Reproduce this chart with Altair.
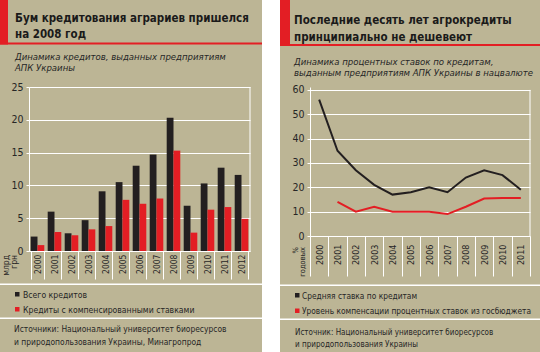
import altair as alt
import pandas as pd

# ---------------- data ----------------
years_a = ["2000", "2001", "2002", "2003", "2004", "2005", "2006",
           "2007", "2008", "2009", "2010", "2011", "2012"]
total_loans = [2.2, 6.0, 2.7, 4.7, 9.1, 10.5, 13.0, 14.7, 20.3, 6.9, 10.3, 12.7, 11.6]
comp_loans = [0.9, 2.9, 2.4, 3.3, 3.8, 7.8, 7.2, 8.0, 15.3, 2.8, 6.3, 6.7, 4.9]
series_a = ["Всего кредитов", "Кредиты с компенсированными ставками"]
yticks_a = [0, 5, 10, 15, 20, 25]
title_a = ["Бум кредитования аграриев пришелся", "на 2008 год"]
subtitle_a = ["Динамика кредитов, выданных предприятиям", "АПК Украины"]
unit_a = ["млрд", "грн"]
source_a = ["Источники: Национальный университет биоресурсов",
            "и природопользования Украины, Минагропрод"]

years_b = ["2000", "2001", "2002", "2003", "2004", "2005", "2006",
           "2007", "2008", "2009", "2010", "2011"]
avg_rate = [56, 35, 27, 21, 17, 18, 20, 18, 24, 27, 25, 19]
comp_rate = [None, 14, 10, 12, 10, 10, 10, 9, 12, 15.4, 15.6, 15.6]
series_b = ["Средняя ставка по кредитам",
            "Уровень компенсации процентных ставок из госбюджета"]
yticks_b = [0, 10, 20, 30, 40, 50, 60]
title_b = ["Последние десять лет агрокредиты", "принципиально не дешевеют"]
subtitle_b = ["Динамика процентных ставок по кредитам,",
              "выданным предприятиям АПК Украины в нацвалюте"]
unit_b = ["%", "годовых"]
source_b = ["Источник:  Национальный университет биоресурсов",
            "и природопользования Украины"]

# ---------------- style ----------------
KHAKI = "#bcb595"
RED = "#e31e24"
BLACK = "#231f20"
TEXT = "#262626"
WHITE = "#ffffff"
FONT = "DejaVu Sans Condensed, DejaVu Sans, sans-serif"

one = pd.DataFrame({"k": [0]})


def rect(x0, y0, x1, y1, o, color, opacity=1):
    ox, oy = o
    return alt.Chart(one).mark_rect(color=color, opacity=opacity).encode(
        x=alt.value(x0 - ox), x2=alt.value(x1 - ox),
        y=alt.value(y0 - oy), y2=alt.value(y1 - oy))


def text(s, x, y, o, size=11, weight="normal", style="normal", color=TEXT,
         angle=None, align="left", baseline="alphabetic", lh=None):
    ox, oy = o
    kw = dict(text=s, fontSize=size, fontWeight=weight, fontStyle=style,
              color=color, font=FONT, align=align, baseline=baseline)
    if angle is not None:
        kw["angle"] = angle
    if lh is not None:
        kw["lineHeight"] = lh
    return alt.Chart(one).mark_text(**kw).encode(
        x=alt.value(x - ox), y=alt.value(y - oy))


def yaxis(vals):
    return alt.Axis(values=vals, title=None, grid=True, gridColor=WHITE,
                    gridWidth=1, domainColor=WHITE, tickColor=WHITE,
                    tickSize=3, labelPadding=3, labelFont=FONT,
                    labelFontSize=10.5, labelColor=TEXT)


def xaxis(size, tick, pad):
    return alt.Axis(title=None, labelAngle=270, labelFont=FONT,
                    labelFontSize=size, labelColor=TEXT, tickBand="extent",
                    tickColor=WHITE, tickSize=tick, labelPadding=pad,
                    domainColor=WHITE, grid=False)


def edge(xpx, vals, scale):
    # right-hand frame line of the plot, from the top tick down to zero
    return alt.Chart(one).mark_rule(color=WHITE, strokeWidth=1).encode(
        x=alt.value(xpx),
        y=alt.Y(datum=vals[-1], scale=scale, axis=yaxis(vals)),
        y2=alt.datum(vals[0]))


# ---------------- left panel ----------------
O1 = (29, 87)
yscale_a = alt.Scale(domain=[0, 25], nice=False)
df_a = pd.DataFrame({
    "year": years_a * 2,
    "value": total_loans + comp_loans,
    "series": [series_a[0]] * len(years_a) + [series_a[1]] * len(years_a),
})
bars = alt.Chart(df_a).mark_bar().encode(
    x=alt.X("year:N", sort=years_a,
            scale=alt.Scale(paddingInner=0.2, paddingOuter=0.1),
            axis=xaxis(8.5, 28, -25)),
    xOffset=alt.XOffset("series:N", sort=series_a,
                        scale=alt.Scale(paddingInner=0, paddingOuter=0)),
    y=alt.Y("value:Q", scale=yscale_a, axis=yaxis(yticks_a)),
    color=alt.Color("series:N", scale=alt.Scale(domain=series_a, range=[BLACK, RED]),
                    legend=None),
)

left = alt.layer(
    rect(262, 0, 280, 352, O1, WHITE),
    rect(0, 0, 8, 44.5, O1, RED),
    rect(0, 42.5, 262, 44.5, O1, RED),
    text(title_a[0], 15, 21.5, O1, size=11.5, weight="bold", color="#1a1a1a"),
    text(title_a[1], 15, 37.5, O1, size=11.5, weight="bold", color="#1a1a1a"),
    text(subtitle_a[0], 15, 60, O1, size=9.5, style="italic"),
    text(subtitle_a[1], 15, 71, O1, size=9.5, style="italic"),
    rect(0, 283.5, 262, 285, O1, WHITE),
    rect(0, 317.5, 262, 319, O1, WHITE),
    rect(15, 292, 19.5, 296.5, O1, BLACK),
    rect(15, 307, 19.5, 311.5, O1, RED),
    text(series_a[0], 23, 298, O1, size=8.6),
    text(series_a[1], 23, 312.5, O1, size=8.6),
    text(source_a[0], 14, 331.5, O1, size=8.4),
    text(source_a[1], 14, 345, O1, size=8.4),
    text(unit_a, 2, 255, O1, size=8.5, angle=270, align="right",
         baseline="top", lh=8),
    bars,
    edge(221, yticks_a, yscale_a),
).properties(width=221, height=164)

# ---------------- right panel ----------------
O2 = (310, 87)
yscale_b = alt.Scale(domain=[0, 61.2], nice=False)
df_b = pd.DataFrame({
    "year": years_b * 2,
    "value": avg_rate + comp_rate,
    "series": [series_b[0]] * len(years_b) + [series_b[1]] * len(years_b),
})
lines = alt.Chart(df_b).mark_line(strokeWidth=2).encode(
    x=alt.X("year:N", sort=years_b, bandPosition=0.5,
            scale=alt.Scale(type="band", paddingInner=0, paddingOuter=0),
            axis=xaxis(9, 40, -32)),
    y=alt.Y("value:Q", scale=yscale_b, axis=yaxis(yticks_b)),
    color=alt.Color("series:N", sort=series_b,
                    scale=alt.Scale(domain=series_b, range=[BLACK, RED]),
                    legend=None),
)

right = alt.layer(
    rect(280, 0, 540, 352, O2, KHAKI, opacity=0),
    rect(280, 0, 290, 46, O2, RED),
    rect(280, 44, 540, 46, O2, RED),
    text(title_b[0], 294, 24, O2, size=11.5, weight="bold", color="#1a1a1a"),
    text(title_b[1], 294, 40.5, O2, size=11.5, weight="bold", color="#1a1a1a"),
    text(subtitle_b[0], 294, 64.5, O2, size=9.5, style="italic"),
    text(subtitle_b[1], 294, 75.5, O2, size=9.5, style="italic"),
    rect(280, 284.5, 540, 286, O2, WHITE),
    rect(280, 318.5, 540, 320, O2, WHITE),
    rect(295, 293, 299.5, 297.5, O2, BLACK),
    rect(295, 308.5, 299.5, 313, O2, RED),
    text(series_b[0], 302, 299, O2, size=8.3),
    text(series_b[1], 302, 313.5, O2, size=8.3),
    text(source_b[0], 295, 335, O2, size=8),
    text(source_b[1], 295, 346.5, O2, size=8),
    text(unit_b, 292, 247, O2, size=7.5, angle=270, align="right",
         baseline="top", lh=7),
    lines,
    edge(220, yticks_b, yscale_b),
).properties(width=220, height=149)

chart = alt.hconcat(left, right, spacing=0).properties(
    background=KHAKI, padding=0
).configure_view(strokeOpacity=0)

chart.save("out.html", embed_options={"renderer": "svg", "actions": False})
